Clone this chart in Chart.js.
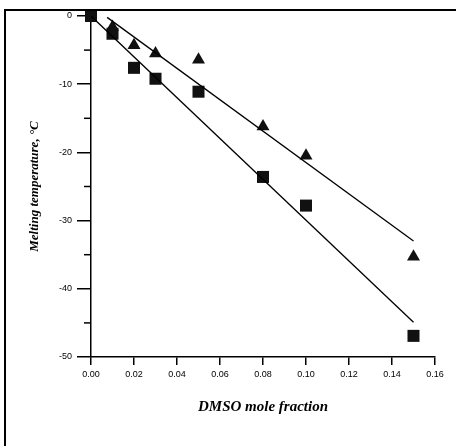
<!DOCTYPE html>
<html>
<head>
<meta charset="utf-8">
<script src="https://cdn.jsdelivr.net/npm/chart.js@4"></script>
<style>
    html, body { margin: 0; padding: 0; background: #fff; }
    #wrap { position: relative; width: 456px; height: 446px; }
    #frame {
        position: absolute; left: 4px; top: 9px; right: 0; bottom: 0;
        border-top: 2px solid #000; border-left: 2px solid #000;
        pointer-events: none;
    }
</style>
</head>
<body>
<div id="wrap">
    <canvas id="chart" width="456" height="446"></canvas>
    <div id="frame"></div>
</div>
<script>
    // DMSO mole fraction vs melting temperature
    const squareX = [0.00, 0.01, 0.02, 0.03, 0.05, 0.08, 0.10, 0.15];
    const squareY = [0.0, -2.6, -7.6, -9.2, -11.1, -23.6, -27.8, -46.9];

    const triangleX = [0.01, 0.02, 0.03, 0.05, 0.08, 0.10, 0.15];
    const triangleY = [-1.6, -4.3, -5.5, -6.4, -16.2, -20.5, -35.3];

    // fitted lines (end points)
    const squareFitX = [0.0, 0.15];
    const squareFitY = [0.0, -44.9];
    const triangleFitX = [0.0075, 0.15];
    const triangleFitY = [-0.2, -33.0];

    const xTicks = [0.00, 0.02, 0.04, 0.06, 0.08, 0.10, 0.12, 0.14, 0.16];
    const yTicks = [0, -10, -20, -30, -40, -50];

    const toPoints = (xs, ys) => xs.map((x, i) => ({ x: x, y: ys[i] }));

    const tickFont = { family: "'Liberation Sans', Arial, sans-serif", size: 9 };
    const titleFont = { family: "'Liberation Serif', 'Times New Roman', serif", size: 13, style: 'italic', weight: 'bold' };

    // short minor ticks on the y axis
    const minorTicks = {
        id: 'minorTicks',
        afterDraw(chart) {
            const y = chart.scales.y;
            const ctx = chart.ctx;
            ctx.save();
            ctx.strokeStyle = '#000';
            ctx.lineWidth = 1.5;
            for (let v = -45; v < 0; v += 10) {
                const py = y.getPixelForValue(v);
                ctx.beginPath();
                ctx.moveTo(y.right - 7, py);
                ctx.lineTo(y.right, py);
                ctx.stroke();
            }
            ctx.restore();
        }
    };

    new Chart(document.getElementById('chart'), {
        type: 'scatter',
        data: {
            datasets: [
                {
                    data: toPoints(squareFitX, squareFitY),
                    showLine: true,
                    borderColor: '#000',
                    borderWidth: 1.3,
                    pointRadius: 0
                },
                {
                    data: toPoints(triangleFitX, triangleFitY),
                    showLine: true,
                    borderColor: '#000',
                    borderWidth: 1.3,
                    pointRadius: 0
                },
                {
                    data: toPoints(squareX, squareY),
                    pointStyle: 'rect',
                    pointRadius: 8.5,
                    backgroundColor: '#111',
                    borderWidth: 0,
                    clip: false
                },
                {
                    data: toPoints(triangleX, triangleY),
                    pointStyle: 'triangle',
                    pointRadius: 7.5,
                    backgroundColor: '#111',
                    borderWidth: 0,
                    clip: false
                }
            ]
        },
        options: {
            responsive: false,
            animation: false,
            layout: { padding: { left: 0, top: 16, right: 21, bottom: 0 } },
            plugins: {
                legend: { display: false },
                tooltip: { enabled: false }
            },
            scales: {
                x: {
                    type: 'linear',
                    min: 0,
                    max: 0.16,
                    afterFit: s => { s.height = 89; },
                    afterBuildTicks: s => { s.ticks = xTicks.map(v => ({ value: v })); },
                    border: { color: '#000', width: 1.5 },
                    grid: { drawOnChartArea: false, tickLength: 8, color: '#000', lineWidth: 1.5 },
                    ticks: {
                        color: '#000',
                        font: tickFont,
                        padding: 4,
                        callback: v => v.toFixed(2)
                    },
                    title: {
                        display: true,
                        text: 'DMSO mole fraction',
                        color: '#000',
                        font: { ...titleFont, size: 15 },
                        padding: { top: 0, bottom: 30 }
                    }
                },
                y: {
                    type: 'linear',
                    min: -50,
                    max: 0,
                    afterFit: s => { s.width = 91; },
                    afterBuildTicks: s => { s.ticks = yTicks.map(v => ({ value: v })); },
                    border: { color: '#000', width: 1.5 },
                    grid: { drawOnChartArea: false, tickLength: 14, color: '#000', lineWidth: 1.5 },
                    ticks: {
                        color: '#000',
                        font: tickFont,
                        padding: 5,
                        callback: v => String(v)
                    },
                    title: {
                        display: true,
                        text: 'Melting temperature, °C',
                        color: '#000',
                        font: titleFont,
                        padding: { top: 27, bottom: 0 }
                    }
                }
            }
        },
        plugins: [minorTicks]
    });
</script>
</body>
</html>
